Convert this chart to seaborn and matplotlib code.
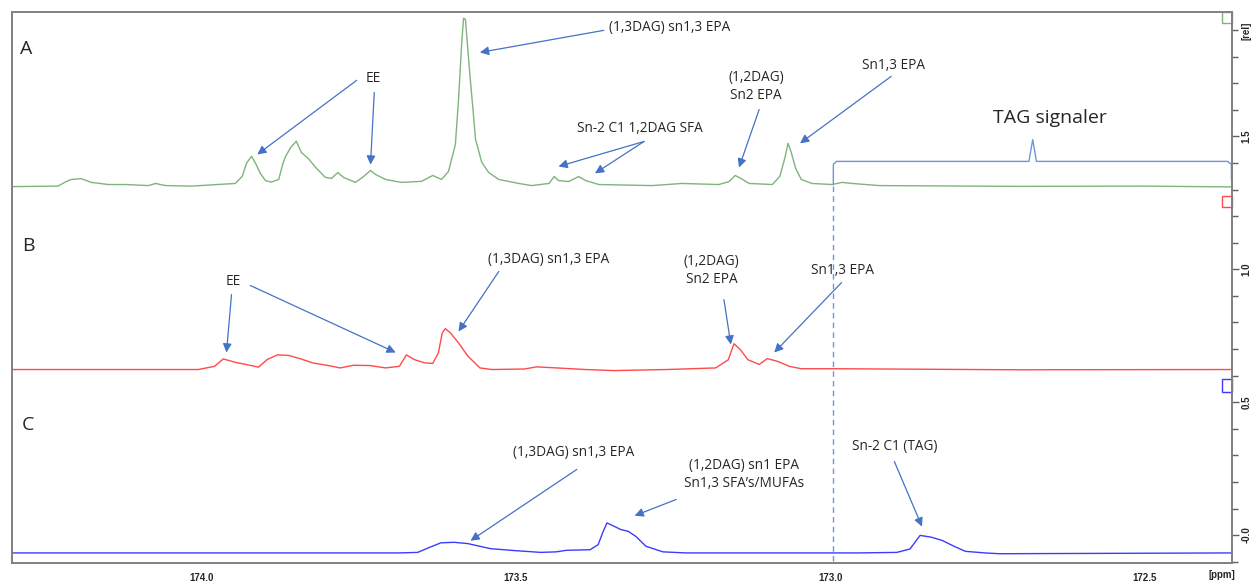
import matplotlib
matplotlib.use("Agg")
import matplotlib.pyplot as plt
import matplotlib.transforms as mtransforms
from matplotlib.patches import Rectangle
from matplotlib.ticker import MultipleLocator, FixedLocator
import seaborn as sns

# Spectrum A (green): ppm / rel
ppm_a = [174.307, 174.228, 174.215, 174.207, 174.191, 174.175, 174.148, 174.121, 174.084, 174.073,
         174.057, 174.016, 173.946, 173.935, 173.928, 173.920, 173.913, 173.906, 173.898, 173.889,
         173.877, 173.870, 173.866, 173.858, 173.849, 173.841, 173.830, 173.818, 173.803, 173.793,
         173.783, 173.774, 173.755, 173.742, 173.731, 173.723, 173.707, 173.682, 173.650, 173.632,
         173.618, 173.607, 173.596, 173.591, 173.586, 173.583, 173.580, 173.577, 173.573, 173.568,
         173.564, 173.554, 173.543, 173.527, 173.495, 173.475, 173.447, 173.439, 173.432, 173.416,
         173.400, 173.389, 173.368, 173.283, 173.236, 173.177, 173.161, 173.151, 173.142, 173.129,
         173.092, 173.080, 173.072, 173.067, 173.062, 173.055, 173.046, 173.029, 172.997, 172.981,
         172.965, 172.922, 172.700, 172.500, 172.361]
rel_a = [1.311, 1.313, 1.330, 1.338, 1.341, 1.327, 1.319, 1.319, 1.315, 1.323,
         1.315, 1.313, 1.323, 1.350, 1.400, 1.425, 1.395, 1.360, 1.334, 1.328,
         1.338, 1.400, 1.425, 1.458, 1.482, 1.440, 1.417, 1.383, 1.346, 1.342,
         1.364, 1.346, 1.327, 1.349, 1.372, 1.357, 1.338, 1.327, 1.331, 1.353,
         1.338, 1.368, 1.470, 1.639, 1.850, 1.945, 1.940, 1.850, 1.733, 1.601,
         1.489, 1.402, 1.364, 1.338, 1.323, 1.315, 1.323, 1.349, 1.334, 1.330,
         1.349, 1.334, 1.319, 1.315, 1.323, 1.319, 1.330, 1.353, 1.342, 1.323,
         1.319, 1.350, 1.420, 1.474, 1.440, 1.380, 1.338, 1.323, 1.319, 1.327,
         1.323, 1.315, 1.312, 1.313, 1.310]

# Spectrum B (red)
ppm_b = [174.301, 174.005, 173.979, 173.965, 173.946, 173.927, 173.909, 173.895, 173.879, 173.861,
         173.842, 173.823, 173.798, 173.779, 173.758, 173.732, 173.707, 173.685, 173.674, 173.661,
         173.645, 173.632, 173.623, 173.617, 173.612, 173.604, 173.591, 173.576, 173.557, 173.538,
         173.486, 173.467, 173.435, 173.389, 173.344, 173.260, 173.182, 173.162, 173.153, 173.143,
         173.131, 173.113, 173.100, 173.084, 173.065, 173.046, 172.994, 172.700, 172.361]
rel_b = [0.623, 0.623, 0.635, 0.663, 0.650, 0.641, 0.632, 0.661, 0.678, 0.676,
         0.663, 0.648, 0.638, 0.629, 0.639, 0.638, 0.629, 0.635, 0.678, 0.660,
         0.648, 0.646, 0.686, 0.760, 0.777, 0.761, 0.723, 0.673, 0.629, 0.623,
         0.625, 0.633, 0.629, 0.623, 0.619, 0.623, 0.629, 0.660, 0.720, 0.698,
         0.660, 0.642, 0.664, 0.654, 0.635, 0.626, 0.626, 0.622, 0.623]

# Spectrum C (blue)
ppm_c = [174.301, 173.686, 173.656, 173.637, 173.619, 173.598, 173.576, 173.540, 173.503, 173.460,
         173.436, 173.419, 173.382, 173.369, 173.362, 173.355, 173.346, 173.333, 173.321, 173.309,
         173.293, 173.266, 173.229, 173.076, 172.955, 172.894, 172.873, 172.864, 172.857, 172.839,
         172.822, 172.803, 172.785, 172.754, 172.731, 172.361]
rel_c = [-0.067, -0.067, -0.065, -0.046, -0.029, -0.027, -0.032, -0.051, -0.058, -0.065,
         -0.063, -0.057, -0.055, -0.036, 0.008, 0.046, 0.036, 0.021, 0.014, -0.005,
         -0.042, -0.063, -0.067, -0.067, -0.067, -0.065, -0.052, -0.023, -0.001, -0.008,
         -0.020, -0.042, -0.061, -0.067, -0.070, -0.067]

GREEN = "#7fb47a"
RED = "#ff4a4a"
BLUE = "#3c3cff"
ARROW = "#4472c4"
TXT_FONT = ["Open Sans", "DejaVu Sans"]

sns.set_theme(style="white")
plt.rcParams["font.family"] = ["Liberation Sans", "DejaVu Sans"]

fig = plt.figure(figsize=(12.54, 5.86), dpi=100)
ax = fig.add_axes([0.0096, 0.0392, 0.9729, 0.9403])

sns.lineplot(x=ppm_a, y=rel_a, color=GREEN, lw=1.0, ax=ax)
sns.lineplot(x=ppm_b, y=rel_b, color=RED, lw=1.0, ax=ax)
sns.lineplot(x=ppm_c, y=rel_c, color=BLUE, lw=1.0, ax=ax)

ax.set_xlim(174.301, 172.361)
ax.set_ylim(-0.105, 1.968)

# axes frame / ticks like the NMR software
for s in ax.spines.values():
    s.set_color("#808080")
    s.set_linewidth(1.4)
ax.yaxis.tick_right()
ax.xaxis.set_major_locator(FixedLocator([174.0, 173.5, 173.0, 172.5]))
ax.xaxis.set_minor_locator(MultipleLocator(0.1))
ax.yaxis.set_major_locator(FixedLocator([0.0, 0.5, 1.0, 1.5]))
ax.yaxis.set_minor_locator(MultipleLocator(0.1))
ax.set_xticklabels(["174.0", "173.5", "173.0", "172.5"])
ax.set_yticklabels(["-0.0", "0.5", "1.0", "1.5"], rotation=90, va="center")
ax.tick_params(axis="both", which="both", direction="out", color="#606060",
               labelsize=7, width=1.0, pad=2)
ax.tick_params(which="major", length=5)
ax.tick_params(which="minor", length=4)
for lab in ax.get_xticklabels() + ax.get_yticklabels():
    lab.set_fontweight("bold")
ax.set_xlabel("")
ax.set_ylabel("")
ax.text(1.008, 0.965, "[rel]", transform=ax.transAxes, rotation=90, fontsize=7,
        fontweight="bold", ha="left", va="center")
ax.text(0.992, -0.012, "[ppm]", transform=ax.transAxes, fontsize=7,
        fontweight="bold", ha="center", va="top")

# trace offset markers on the right edge
blend = mtransforms.blended_transform_factory(ax.transAxes, ax.transData)
for y0, y1, c in [(1.925, 1.968, GREEN), (1.233, 1.274, RED), (0.540, 0.589, BLUE)]:
    ax.add_patch(Rectangle((0.9918, y0), 0.0082, y1 - y0, transform=blend,
                           fill=False, edgecolor=c, lw=1.0, clip_on=False))

# dashed marker and the TAG bracket
ax.plot([172.995, 172.995], [1.315, -0.105], ls=(0, (4, 3)), color="#6f95d8", lw=1.0)
ax.plot([172.995, 172.995, 172.990, 172.684, 172.678, 172.672, 172.368, 172.362, 172.362],
        [1.318, 1.395, 1.406, 1.406, 1.488, 1.406, 1.406, 1.395, 1.335],
        color="#6f95d8", lw=1.0)
ax.text(172.651, 1.571, "TAG signaler", fontsize=14, family=TXT_FONT, ha="center", va="center")

# panel letters
for x, y, s in [(174.279, 1.827, "A"), (174.275, 1.086, "B"), (174.275, 0.416, "C")]:
    ax.text(x, y, s, fontsize=14, family=TXT_FONT, ha="center", va="center")

# annotation texts
labels = [
    (173.256, 1.910, "(1,3DAG) sn1,3 EPA"),
    (173.726, 1.718, "EE"),
    (173.303, 1.530, "Sn-2 C1 1,2DAG SFA"),
    (173.118, 1.688, "(1,2DAG)\nSn2 EPA"),
    (172.900, 1.767, "Sn1,3 EPA"),
    (173.949, 0.954, "EE"),
    (173.447, 1.037, "(1,3DAG) sn1,3 EPA"),
    (173.189, 0.995, "(1,2DAG)\nSn2 EPA"),
    (172.981, 0.995, "Sn1,3 EPA"),
    (173.408, 0.311, "(1,3DAG) sn1,3 EPA"),
    (173.137, 0.228, "(1,2DAG) sn1 EPA\nSn1,3 SFA\u2019s/MUFAs"),
    (172.898, 0.333, "Sn-2 C1 (TAG)"),
]
for x, y, s in labels:
    ax.text(x, y, s, fontsize=9.8, family=TXT_FONT, ha="center", va="center", linespacing=1.3)

# arrows: start -> tip
arrows = [
    ((173.360, 1.899), (173.557, 1.816)),
    ((173.753, 1.711), (173.911, 1.432)),
    ((173.725, 1.665), (173.731, 1.394)),
    ((173.296, 1.481), (173.432, 1.387)),
    ((173.296, 1.481), (173.374, 1.361)),
    ((173.113, 1.601), (173.145, 1.383)),
    ((172.903, 1.726), (173.048, 1.474)),
    ((173.952, 0.905), (173.960, 0.687)),
    ((173.922, 0.939), (173.691, 0.687)),
    ((173.527, 0.992), (173.591, 0.766)),
    ((173.169, 0.886), (173.158, 0.717)),
    ((172.982, 0.950), (173.089, 0.687)),
    ((173.403, 0.247), (173.572, -0.021)),
    ((173.245, 0.134), (173.311, 0.073)),
    ((172.898, 0.277), (172.854, 0.032)),
]
for start, tip in arrows:
    ax.annotate("", xy=tip, xytext=start,
                arrowprops=dict(arrowstyle="-|>", color=ARROW, lw=0.9,
                                mutation_scale=13, shrinkA=0, shrinkB=0))

fig.savefig("out.png", dpi=100)
plt.close(fig)
